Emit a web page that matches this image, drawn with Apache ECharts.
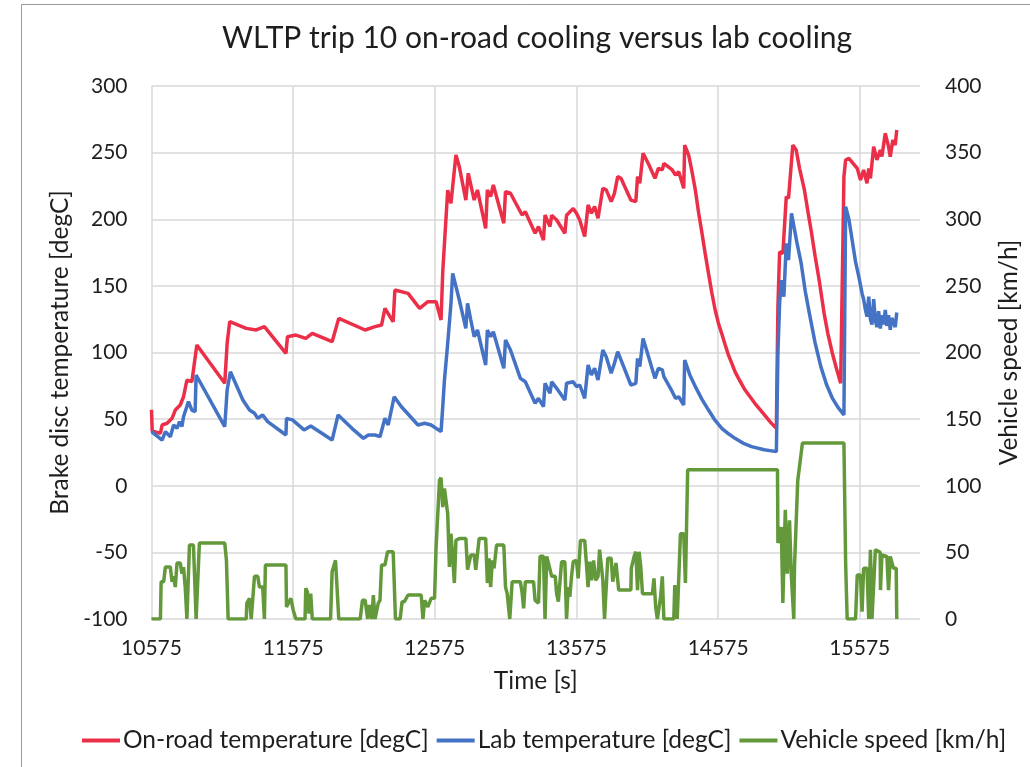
<!DOCTYPE html>
<html>
<head>
<meta charset="utf-8">
<script src="https://cdn.jsdelivr.net/npm/echarts@6/dist/echarts.min.js"></script>
<style>
html,body{margin:0;padding:0;background:#fff;}
#chart{width:1030px;height:767px;}
</style>
</head>
<body>
<div id="chart"></div>
<script>
// ---- data ----
const xTicks = [10575, 11575, 12575, 13575, 14575, 15575];

const roadTime = [10575,10580,10638,10650,10685,10720,10743,10778,10801,10825,10860,10895,11092,11109,11127,11244,11314,11372,11524,11535,11594,11664,11710,11850,11897,12083,12153,12199,12223,12281,12293,12386,12468,12526,12584,12619,12631,12666,12689,12724,12748,12794,12811,12853,12876,12934,12946,12969,12988,13062,13074,13109,13191,13214,13283,13307,13342,13353,13388,13400,13435,13493,13505,13552,13575,13598,13633,13657,13680,13703,13727,13761,13785,13820,13843,13866,13889,13959,13994,14006,14022,14045,14087,14129,14153,14181,14192,14251,14274,14297,14332,14339,14367,14390,14414,14437,14461,14484,14507,14530,14554,14577,14601,14624,14648,14671,14694,14717,14764,14834,14880,14950,14986,14997,15009,15032,15056,15072,15102,15126,15150,15184,15210,15231,15260,15288,15323,15350,15380,15410,15440,15463,15475,15498,15557,15580,15602,15626,15638,15650,15673,15696,15720,15731,15755,15778,15790,15808,15825,15836];
const roadTemp = [57,41,39.4,45.6,46.9,50.6,56.8,60.6,66.8,79.3,78.1,105.6,76.9,106.9,123.1,118.1,116.9,119.4,99.4,111.8,113.1,110.6,114.4,108.1,125.6,116.9,119.4,120.6,133.1,123.1,146.9,144.4,133.1,138.1,138.1,124.4,160.6,221.9,212,248.2,239.4,214.4,234.5,214.4,222,193.2,222,217,225.7,197,220.7,219.5,203.2,205.7,189.5,194.5,184.4,203.2,194.5,203,199.4,189.5,203,208,204.5,199.4,187,210.7,204.5,209.5,200.7,223.2,222,213.2,219.5,232,230.7,214.4,213.2,232,227,249.5,240.7,230.7,238.2,237,242,237,233.2,235.7,223.2,255.7,248.2,236,222,205,189.5,174,159.4,145,131.9,122,114,106,98,92,85.6,81,72,61.9,56,47,43.1,134.4,175.6,174.4,217,215.8,255.7,252,238,222,205,191.9,172,154.4,129.4,114,100,88,76.9,232,244.5,245.7,238.2,229.5,237,227,238.2,230.7,254.5,244.5,252,247,264.5,254.5,247,259.5,255.7,267];

const labTime = [10575,10650,10673,10708,10731,10755,10773,10790,10801,10813,10836,10860,10883,10890,11092,11109,11132,11220,11267,11302,11325,11360,11395,11524,11528,11570,11652,11699,11850,11892,11990,12071,12106,12153,12188,12223,12246,12288,12339,12456,12503,12549,12619,12631,12643,12666,12689,12701,12748,12794,12806,12829,12853,12876,12934,12946,12969,12988,13062,13074,13109,13179,13214,13283,13307,13342,13353,13388,13400,13435,13493,13505,13552,13575,13598,13633,13657,13680,13703,13727,13761,13785,13820,13843,13866,13889,13959,13994,14006,14022,14045,14087,14129,14153,14181,14192,14251,14274,14297,14332,14339,14376,14414,14460,14507,14554,14601,14648,14694,14750,14811,14900,14986,14997,15009,15021,15039,15056,15072,15093,15130,15161,15190,15219,15260,15300,15340,15380,15420,15463,15475,15498,15510,15545,15568,15591,15602,15615,15626,15638,15650,15661,15673,15685,15696,15708,15720,15731,15743,15755,15766,15778,15790,15801,15813,15825,15836];
const labTemp = [40.6,34.3,40.6,36.8,45.6,43.1,48.1,44.4,51.8,50.6,63.1,56.8,55.6,83.1,44.4,71.9,85.6,64.3,56.8,54.4,50.6,53.1,48.1,38.1,50.6,49.4,41.9,44.9,34.3,53.1,43.1,35.6,38.1,38.1,36.8,50.6,45.6,66.8,59.3,45.6,46.9,45.6,40.6,59.3,79.3,106.9,136.9,159.4,139.4,118.1,136.9,124.4,111.8,116.9,90.6,116.9,111.8,115.6,88.1,109.4,101.9,80.6,78.1,61.9,65.6,59.3,76.9,69.4,78.1,73.1,64.3,76.9,78.1,74.4,75.6,65.6,90.6,83.1,88.1,79.3,101.9,96.8,84.4,91.9,100.6,94.4,75.6,76.9,95.6,89.4,110.6,95.6,80.6,88.1,86.9,81.9,70.6,65.6,66.8,60.6,94.4,83,74.4,65,56.8,49,43.1,39,35.6,32,29.4,27,25.6,100,136.9,154.4,141.9,181.9,169.4,204.5,183,167,146,129.4,107,89.4,76,66,59,53.1,209.5,200,192,168,156.9,144.4,140,132,127,142,125,121,140,124,119,131,118,128,121,132,120,128,117,126,127,119,130];

const speedTime = [10575,10638,10643,10661,10673,10708,10720,10731,10743,10755,10778,10790,10801,10813,10825,10843,10871,10890,10913,11092,11104,11109,11116,11244,11248,11267,11279,11302,11325,11337,11360,11372,11379,11524,11528,11559,11575,11594,11659,11664,11675,11687,11699,11710,11839,11850,11874,11897,12048,12064,12083,12101,12113,12130,12141,12153,12176,12188,12199,12223,12241,12281,12288,12297,12330,12344,12360,12386,12479,12491,12503,12526,12549,12573,12584,12608,12619,12631,12643,12666,12678,12689,12701,12713,12724,12748,12794,12806,12829,12853,12864,12888,12934,12946,12958,12969,12981,12993,13011,13062,13074,13086,13104,13121,13179,13191,13202,13214,13272,13283,13307,13318,13342,13353,13365,13400,13425,13435,13447,13470,13493,13505,13517,13528,13540,13552,13575,13587,13603,13633,13645,13657,13668,13680,13696,13710,13727,13738,13750,13761,13773,13796,13820,13831,13854,13873,13959,13962,13982,13994,14006,14017,14029,14041,14111,14122,14134,14146,14169,14181,14192,14262,14269,14286,14309,14332,14344,14360,14994,14997,15021,15032,15049,15063,15079,15091,15109,15114,15137,15170,15463,15475,15486,15545,15557,15580,15591,15602,15626,15638,15650,15661,15685,15719,15721,15731,15766,15778,15790,15801,15813,15832,15836];
const speed = [0,0,28,28,39,39,28,32,24,42,42,34,39,24,0,55.5,55.5,0,57,57,44,44,0,0,12,15.5,0,32,32,24,24,0,40.5,40.5,9,15.5,6.8,0,0,23,20.5,4,19,0,0,35.5,44,0,0,14,14,0,10.5,0,18,0,12,14,40.5,40.5,50.5,50.5,29,0,0,13,13,18,18,0,14,9,15.5,15.5,54,104,106,84,98,79,39,64,47,27,59,60.5,60.5,37,48,48,37,60.5,60.5,27,45.5,24,44,38,55.5,55.5,24,19,0,28,28,20,8,28,28,14,12,47,47,0,47,32,32,19,13,43,43,0,24,16.7,32,43,44,30.5,59,59,42,24,43,29,44,29,32,52,40.5,29,0,45.5,45.5,28,42,21.7,21.7,38,47,50.5,21.7,50.5,39,19,19,30.5,9,0,16.7,32,0,0,25.5,0,64,64,27,112,112,57,69,12,82,34,74,34,0,39,104,132,132,42,0,0,33,33,5.5,38,38,0,52,0,52,50,21.7,48,47,21.7,47,45.5,38,38,0];

const seriesNames = ['On-road temperature [degC]', 'Lab temperature [degC]', 'Vehicle speed [km/h]'];
const seriesColors = ['#EC2F48', '#4472C4', '#63993B'];

function zip(a, b) { return a.map((t, i) => [t, b[i]]); }

const FONT = 'Lato';
const TXT = '#1e1e1e';
const GRID = '#d9d9d9';
const LW = 3.5;

const chart = echarts.init(document.getElementById('chart'), null, {renderer: 'canvas'});
chart.setOption({
  animation: false,
  backgroundColor: '#fff',
  textStyle: {fontFamily: FONT},
  title: {
    text: 'WLTP trip 10 on-road cooling versus lab cooling',
    left: 217, top: 18,
    padding: [5, 5, 5, 5],
    textStyle: {fontFamily: FONT, fontSize: 30, fontWeight: 'normal', color: TXT}
  },
  legend: {
    data: seriesNames,
    bottom: 9,
    left: 77,
    padding: [5, 5, 5, 5],
    icon: 'rect',
    itemWidth: 38, itemHeight: 4, itemGap: 8,
    textStyle: {fontFamily: FONT, fontSize: 24.5, color: TXT, padding: [0, 0, 0, -2]}
  },
  grid: {left: 151.5, right: 105, top: 86, bottom: 148, containLabel: false},
  graphic: [{
    type: 'rect', silent: true, z: -1,
    shape: {x: 21.5, y: 4.5, width: 1100, height: 900},
    style: {fill: 'none', stroke: '#9a9a9a', lineWidth: 1}
  }],
  xAxis: {
    type: 'value', min: 10575, max: 16000, interval: 1000,
    name: 'Time [s]', nameLocation: 'middle', nameGap: 50,
    nameTextStyle: {fontFamily: FONT, fontSize: 24.5, color: TXT},
    axisLine: {show: false}, axisTick: {show: false},
    axisLabel: {fontFamily: FONT, fontSize: 21, color: TXT, margin: 19,
      formatter: v => (xTicks.indexOf(v) >= 0 ? String(v) : '')},
    splitLine: {show: true, lineStyle: {color: [GRID, GRID, GRID, GRID, GRID, GRID, 'rgba(0,0,0,0)'], width: 1.5}}
  },
  yAxis: [{
    type: 'value', min: -100, max: 300, interval: 50,
    name: 'Brake disc temperature [degC]', nameLocation: 'middle', nameGap: 78,
    nameTextStyle: {fontFamily: FONT, fontSize: 24.5, color: TXT},
    axisLine: {show: false}, axisTick: {show: false},
    axisLabel: {fontFamily: FONT, fontSize: 21, color: TXT, margin: 24},
    splitLine: {show: true, lineStyle: {color: GRID, width: 1.5}}
  }, {
    type: 'value', min: 0, max: 400, interval: 50, position: 'right',
    name: 'Vehicle speed [km/h]', nameLocation: 'middle', nameGap: 77,
    nameTextStyle: {fontFamily: FONT, fontSize: 24.5, color: TXT},
    axisLine: {show: false}, axisTick: {show: false},
    axisLabel: {fontFamily: FONT, fontSize: 21, color: TXT, margin: 25},
    splitLine: {show: false}
  }],
  series: [{
    name: seriesNames[0], type: 'line', yAxisIndex: 0, data: zip(roadTime, roadTemp),
    showSymbol: false, symbol: 'none', color: seriesColors[0],
    lineStyle: {width: LW, color: seriesColors[0]}
  }, {
    name: seriesNames[1], type: 'line', yAxisIndex: 0, data: zip(labTime, labTemp),
    showSymbol: false, symbol: 'none', color: seriesColors[1],
    lineStyle: {width: LW, color: seriesColors[1]}
  }, {
    name: seriesNames[2], type: 'line', yAxisIndex: 1, data: zip(speedTime, speed),
    showSymbol: false, symbol: 'none', color: seriesColors[2],
    lineStyle: {width: LW, color: seriesColors[2]}
  }]
});
</script>
</body>
</html>
